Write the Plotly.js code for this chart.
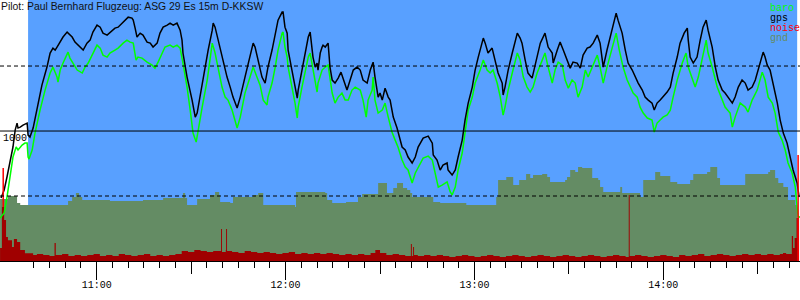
<!DOCTYPE html>
<html>
<head>
<meta charset="utf-8">
<script src="https://cdn.plot.ly/plotly-3.0.1.min.js"></script>
<style>html,body{margin:0;padding:0;background:#fff;}#chart{width:800px;height:300px;}</style>
</head>
<body>
<div id="chart"></div>
<script>
// time in minutes after midnight, altitude in metres
const gpsTime = [629.6,630.6,631.5,632.5,633.4,634.1,634.7,635.0,635.7,636.6,637.9,638.2,638.8,639.8,641.1,642.6,644.2,645.2,646.1,646.8,647.4,648.4,649.3,650.6,650.9,652.2,653.1,654.7,655.7,656.9,657.9,658.8,660.1,661.1,662.0,663.3,664.9,665.8,666.8,668.1,669.0,670.0,671.2,671.6,672.2,672.8,673.8,674.7,676.0,677.0,677.9,679.2,680.1,681.1,682.4,683.3,684.3,685.5,686.5,687.1,687.4,688.7,690.3,691.3,691.9,692.8,693.8,695.4,696.7,697.0,697.6,698.6,699.8,700.8,701.4,702.4,703.3,704.6,705.6,707.1,708.7,709.7,710.3,711.3,712.5,713.5,714.4,715.7,716.7,717.6,718.9,719.2,719.8,720.5,720.8,722.1,723.0,723.7,724.0,725.2,726.2,727.2,727.8,728.4,728.7,729.4,730.0,730.3,731.0,731.6,731.9,732.6,733.5,734.1,734.8,735.7,736.7,737.6,738.9,739.5,740.5,741.5,742.7,743.7,744.6,745.9,746.9,747.8,748.4,749.1,749.4,750.0,750.7,751.6,752.6,753.2,754.2,755.4,755.7,756.4,757.0,758.0,758.9,760.2,761.2,762.1,763.7,765.3,766.6,766.9,768.1,769.1,770.0,771.3,771.6,772.9,773.9,774.8,776.1,777.0,778.0,779.3,780.2,781.2,782.4,782.8,783.4,784.3,785.6,786.6,787.5,788.8,789.1,789.7,790.7,792.0,792.9,793.6,794.5,795.1,796.1,797.0,798.3,799.3,799.9,800.9,802.4,803.4,804.7,805.0,806.3,807.2,808.2,809.4,810.4,811.3,812.6,813.6,814.5,815.8,816.7,817.7,819.0,819.9,820.6,820.9,822.1,823.1,824.1,825.0,825.6,826.9,827.9,828.8,830.1,831.0,832.0,833.3,834.2,835.2,836.4,837.1,838.0,839.0,839.9,841.2,842.2,843.1,844.4,845.3,846.6,847.6,847.9,848.5,849.5,850.7,851.7,852.6,853.6,854.2,855.5,856.5,857.4,858.7,859.6,860.6,861.9,862.8,863.8,865.0,866.0,866.9,868.2,869.2,870.1,871.7,872.3,873.0,873.9,874.9,876.2,877.1,878.1,879.3,880.3,881.2,882.5,883.1];
const gpsAlt = [484,546,646,754,877,1007,1061,1023,1030,1046,1061,969,954,1023,1177,1353,1492,1600,1638,1623,1646,1684,1723,1761,1753,1723,1684,1646,1623,1676,1699,1761,1815,1799,1753,1738,1776,1792,1799,1830,1853,1876,1869,1853,1792,1723,1753,1738,1684,1676,1646,1676,1753,1799,1815,1830,1815,1830,1776,1699,1600,1415,1238,1107,1138,1261,1415,1623,1776,1830,1799,1699,1569,1492,1415,1338,1261,1177,1261,1415,1569,1676,1646,1546,1415,1369,1492,1623,1753,1853,1915,1915,1799,1753,1623,1469,1338,1253,1315,1469,1600,1723,1761,1646,1569,1492,1523,1469,1600,1646,1661,1646,1676,1492,1392,1369,1407,1453,1369,1315,1392,1469,1492,1469,1392,1369,1469,1530,1415,1315,1261,1292,1238,1330,1261,1238,1107,1023,992,930,877,854,800,754,800,877,946,961,907,815,777,700,738,754,700,661,700,800,930,1084,1215,1338,1469,1569,1676,1715,1676,1600,1638,1546,1446,1369,1277,1338,1469,1600,1699,1753,1715,1676,1546,1446,1407,1507,1569,1676,1753,1646,1600,1523,1623,1684,1623,1546,1484,1530,1523,1484,1584,1638,1646,1676,1738,1676,1546,1492,1623,1723,1830,1907,1853,1753,1623,1523,1469,1415,1369,1315,1261,1238,1215,1161,1215,1238,1261,1300,1338,1446,1569,1676,1753,1792,1699,1569,1523,1569,1699,1799,1853,1776,1646,1492,1392,1315,1292,1261,1215,1261,1338,1392,1369,1315,1338,1392,1469,1607,1569,1507,1469,1369,1215,1084,984,907,800,700,600,492];

const baroTime = [629.3,630.6,631.5,632.5,633.4,634.4,635.0,636.3,637.2,637.9,638.2,638.5,639.5,640.4,641.4,642.0,643.6,645.2,646.1,647.4,647.7,648.4,649.3,650.6,650.9,651.5,652.5,653.8,655.4,656.3,657.3,658.8,660.1,661.1,662.0,663.3,664.2,665.8,666.8,668.4,669.6,670.6,671.6,672.5,673.1,674.4,676.0,677.6,678.5,679.5,680.8,681.7,683.3,684.3,685.5,686.5,687.4,688.7,689.7,690.6,691.6,692.2,693.5,695.1,696.0,696.7,697.6,698.6,699.8,700.8,701.7,703.0,704.0,704.6,705.6,707.1,708.7,709.7,710.9,711.9,712.9,714.1,714.4,715.7,716.7,717.6,718.9,719.2,719.8,720.5,720.8,722.1,723.0,723.7,724.0,725.2,726.2,727.2,727.8,728.7,729.4,730.0,730.3,731.6,732.6,733.5,734.8,735.7,736.7,737.9,738.9,739.9,741.1,742.1,743.7,744.6,745.6,746.2,747.5,747.8,748.4,749.4,750.7,751.6,752.6,753.8,754.8,755.7,757.0,758.0,758.9,760.2,761.2,762.1,763.7,765.3,766.6,767.5,768.5,769.7,771.3,772.3,772.9,773.9,774.8,776.1,777.0,778.0,779.3,780.2,781.8,782.8,784.0,785.0,785.9,787.2,788.2,789.1,789.7,790.7,792.0,793.6,794.5,795.5,796.7,797.7,798.6,799.9,800.9,801.8,802.4,803.4,804.7,805.6,806.6,807.9,808.8,809.8,811.0,812.0,812.9,814.2,815.2,816.1,817.4,819.0,819.9,820.9,822.1,823.7,825.0,826.0,827.2,828.5,829.5,830.4,831.7,832.6,833.6,834.9,836.4,837.1,838.0,839.0,839.9,841.2,842.2,843.1,844.4,846.0,847.2,847.9,849.2,850.1,851.1,852.3,853.6,854.2,855.5,857.1,858.7,859.6,861.2,861.9,862.8,864.4,866.0,866.9,868.2,869.8,871.4,872.3,873.3,874.6,875.5,876.5,877.7,878.7,879.6,880.9,881.9,882.5,882.8,883.5];
const baroAlt = [331,369,492,646,800,877,854,892,907,907,800,784,854,984,1107,1161,1315,1446,1492,1415,1377,1469,1523,1584,1607,1561,1523,1469,1446,1492,1523,1600,1661,1638,1584,1569,1600,1623,1638,1676,1699,1684,1676,1546,1569,1561,1530,1507,1484,1530,1600,1646,1661,1646,1661,1638,1523,1338,1161,984,915,1007,1184,1392,1569,1676,1600,1492,1338,1261,1238,1161,1084,1023,1107,1292,1415,1492,1415,1353,1238,1200,1261,1369,1492,1623,1753,1761,1646,1569,1492,1338,1215,1100,1184,1338,1469,1569,1600,1469,1369,1300,1369,1469,1492,1507,1292,1215,1261,1292,1238,1238,1315,1338,1315,1238,1107,1238,1315,1415,1238,1138,1161,1215,1107,992,930,877,777,723,700,600,677,723,792,807,777,677,569,584,608,531,508,569,700,831,1007,1161,1261,1369,1469,1546,1469,1446,1469,1369,1261,1123,1184,1315,1446,1600,1546,1415,1338,1300,1338,1446,1507,1561,1600,1492,1369,1469,1530,1507,1392,1330,1392,1369,1261,1338,1469,1415,1492,1584,1492,1369,1492,1646,1753,1623,1492,1392,1338,1292,1261,1184,1138,1100,1084,992,1061,1084,1107,1123,1161,1261,1392,1523,1600,1492,1392,1338,1415,1546,1699,1600,1492,1338,1238,1184,1138,1030,1107,1215,1184,1146,1238,1315,1453,1392,1261,1215,1138,992,930,854,754,677,569,392,338,338];

const gndTime = [629.3,631.8,634.7,635.7,646.8,650.9,652.2,653.4,654.4,655.4,664.2,674.7,681.1,687.1,687.4,688.1,688.7,691.9,696.0,697.6,698.9,699.2,702.4,703.3,709.7,711.3,712.9,723.0,723.3,728.4,732.6,733.2,734.8,739.2,743.0,744.3,749.4,752.2,754.2,755.4,757.3,758.6,759.6,760.2,766.9,769.1,777.4,786.9,787.5,790.1,792.3,794.2,796.4,797.7,798.6,801.5,803.1,804.0,808.8,809.4,810.4,812.0,812.9,814.2,817.4,819.3,819.9,820.9,825.6,826.3,826.9,832.6,833.6,837.4,839.0,842.2,844.4,848.5,849.5,853.9,854.9,857.1,858.0,866.0,873.3,873.9,875.5,876.5,878.1,879.6,881.9,882.5];
const gndAlt = [477,500,446,431,431,461,492,523,492,469,461,469,484,484,523,484,431,477,508,531,508,454,446,492,508,523,431,415,531,531,523,469,446,454,492,515,600,523,561,600,561,546,523,492,454,446,431,492,623,646,584,623,669,638,661,669,646,608,623,646,700,684,723,715,638,623,569,531,531,569,523,492,623,684,654,608,592,623,669,684,723,638,584,669,684,700,638,600,569,469,431,431];

const noiseTime = [629.3,629.9,630.6,631.2,631.8,633.1,633.7,634.7,635.7,637.2,639.8,641,643,645,646.6,647,649,651,653,655,657,659,661,663,665,667,669,671,673,675,677,679,681,683,685,687,689,691,693,695,697,699.5,699.8,701,701.1,701.4,703,705,707,709,711,713,715,717,719,721,723,725,727,729,731,733,735,737,739,741,743,745,747,748.5,750,752,754,756,758,759.8,760.1,760.5,760.8,762,764,766,768,770,772,774,776,778,780,782,784,786,788,790,792,794,796,798,800,802,804,806,808,810,812,814,816,818,820,822,824,826,828,829.0,829.3,831,833,835,837,839,841,843,845,847,849,851,853,855,857,859,861,863,865,867,869,871,873,875,877,878,879,880.8,881.2,881.7,882.3,883.1];
const noiseVal = [100,415,315,185,160,108,170,146,85,60,46,54,46,38,138,46,54,38,46,38,46,54,38,46,38,54,46,38,46,54,38,46,38,46,54,77,69,85,77,69,77,246,69,85,246,77,69,62,77,69,62,69,62,54,62,69,54,62,54,62,54,62,54,46,54,46,54,46,62,85,62,46,54,46,38,131,38,108,46,38,46,38,46,38,31,38,46,38,31,38,46,38,31,38,46,38,31,38,46,38,31,38,46,38,31,38,46,38,31,38,46,38,31,508,38,46,38,31,38,46,38,31,46,38,46,54,38,46,54,46,38,46,54,46,54,46,54,46,54,62,54,192,100,177,331,0];

// short full-scale noise peaks at engine start and stop
const peakTime = [630.3,630.3,null,882.8,882.8];
const peakVal = [415,715,null,0,815];

const glideWindow = [638.2, 882.5];
const refLevels = [500, 1000, 1500];
const refDash = ['4px,3px', 'solid', '4px,3px'];
const hourTicks = [660, 720, 780, 840];
const hourLabels = ['11:00', '12:00', '13:00', '14:00'];
const halfHourTicks = [630, 690, 750, 810, 870];
const seriesNames = ['baro', 'gps', 'noise', 'gnd'];
const seriesColors = ['#00ff00', '#000000', '#ff0000', '#648c64'];
const titleText = 'Pilot: Paul Bernhard Flugzeug: ASG 29 Es 15m D-KKSW';

const xRange = [629.28, 883.4];
const mono = 'Liberation Mono, DejaVu Sans Mono, monospace';

const traces = [
  {x: gndTime, y: gndAlt, type: 'scatter', mode: 'lines', line: {shape: 'hv', width: 0, color: '#648c64'}, fill: 'tozeroy', fillcolor: '#648c64', hoverinfo: 'skip'},
  {x: noiseTime, y: noiseVal, type: 'scatter', mode: 'lines', line: {shape: 'hv', width: 0, color: '#a00000'}, fill: 'tozeroy', fillcolor: '#a00000', hoverinfo: 'skip'},
  {x: baroTime, y: baroAlt, type: 'scatter', mode: 'lines', line: {color: '#00ff00', width: 1.5}},
  {x: gpsTime, y: gpsAlt, type: 'scatter', mode: 'lines', line: {color: '#000000', width: 1.5}},
  {x: peakTime, y: peakVal, xaxis: 'x2', type: 'scatter', mode: 'lines', line: {color: '#ff0000', width: 1.5}}
];

const shapes = [{type: 'rect', xref: 'x', yref: 'paper', x0: glideWindow[0], x1: glideWindow[1], y0: 0, y1: 1, fillcolor: '#58a0ff', line: {width: 0}, layer: 'below'}];
refLevels.forEach((v, i) => shapes.push({type: 'line', xref: 'paper', yref: 'y', x0: 0, x1: 1, y0: v, y1: v, line: {color: '#000', width: 1, dash: refDash[i]}, layer: 'above'}));

const annotations = [{text: titleText, xref: 'paper', yref: 'paper', x: 0, y: 1, xanchor: 'left', yanchor: 'top', showarrow: false, font: {family: 'Liberation Sans, Arial, sans-serif', size: 10.4, color: '#111'}, xshift: -1, yshift: 1}];
seriesNames.forEach((n, i) => annotations.push({text: n, xref: 'paper', yref: 'paper', x: 0.9625, y: 1, xanchor: 'left', yanchor: 'top', xshift: -2, yshift: -i * 10 - 1, showarrow: false, font: {family: mono, size: 10, color: seriesColors[i]}}));

const layout = {
  width: 800, height: 300,
  margin: {l: 0, r: 0, t: 0, b: 39, pad: 0},
  paper_bgcolor: '#ffffff', plot_bgcolor: '#ffffff',
  showlegend: false,
  xaxis: {range: xRange, type: 'linear', tickmode: 'array', tickvals: hourTicks, ticktext: hourLabels,
          ticks: 'outside', ticklen: 18, tickwidth: 1, tickcolor: '#000', showgrid: false, zeroline: false,
          showline: true, linecolor: '#000', linewidth: 1, ticklabelstandoff: -4, tickfont: {family: mono, size: 10, color: '#000'},
          minor: {tickmode: 'linear', tick0: 0, dtick: 5, ticks: 'outside', ticklen: 6, tickcolor: '#000', tickwidth: 1, showgrid: false}},
  xaxis2: {range: xRange, type: 'linear', overlaying: 'x', anchor: 'y', side: 'bottom', tickmode: 'array', tickvals: halfHourTicks,
           ticks: 'outside', ticklen: 12, tickwidth: 1, tickcolor: '#000', showticklabels: false, showgrid: false, zeroline: false, showline: false},
  yaxis: {range: [0, 2008], tickmode: 'array', tickvals: [1000], ticktext: ['1000'], ticks: '', showgrid: false, zeroline: false,
          showline: false, ticklabelposition: 'inside', ticklabelshift: 6, tickfont: {family: mono, size: 10, color: '#000'}},
  shapes: shapes,
  annotations: annotations
};

Plotly.newPlot('chart', traces, layout, {staticPlot: true, displayModeBar: false});
</script>
</body>
</html>
